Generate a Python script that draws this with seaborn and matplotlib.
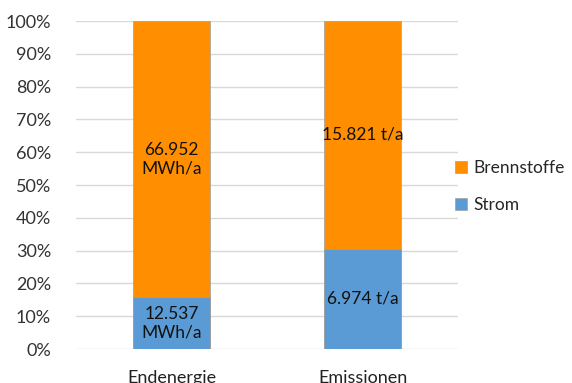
import matplotlib
matplotlib.use("Agg")
import matplotlib.pyplot as plt
import seaborn as sns
import pandas as pd
import numpy as np

categories = ["Endenergie", "Emissionen"]
strom = [12537, 6974]
brennstoffe = [66952, 15821]
strom_labels = ["12.537\nMWh/a", "6.974 t/a"]
brennstoffe_labels = ["66.952\nMWh/a", "15.821 t/a"]
yticks = [0, 10, 20, 30, 40, 50, 60, 70, 80, 90, 100]

c_orange = "#FF8F00"
c_blue = "#5B9BD5"

sns.set_theme(style="white")
plt.rcParams["font.family"] = ["Lato", "DejaVu Sans"]

total = np.array(strom) + np.array(brennstoffe)
df = pd.DataFrame({
    "cat": categories,
    "strom_pct": np.array(strom) / total * 100,
    "total_pct": total / total * 100,
})

fig = plt.figure(figsize=(5.72, 3.83), dpi=100)
ax = fig.add_axes([76 / 572, 1 - 349 / 383, 382 / 572, 328 / 383])

sns.barplot(data=df, x="cat", y="total_pct", color=c_orange, width=0.40,
            saturation=1, ax=ax, label="Brennstoffe", edgecolor="#A0A0A0", linewidth=0.5)
sns.barplot(data=df, x="cat", y="strom_pct", color=c_blue, width=0.40,
            saturation=1, ax=ax, label="Strom", edgecolor="#A0A0A0", linewidth=0.5)

ax.set_xlim(-0.5, 1.5)
ax.set_ylim(0, 100)
ax.set_yticks(yticks)
ax.set_yticklabels([f"{v}%" for v in yticks], fontsize=13, color="#333333")
ax.tick_params(axis="y", length=0, pad=18)
ax.tick_params(axis="x", length=0, pad=15, labelsize=13, labelcolor="#222222")
ax.set_xlabel("")
ax.set_ylabel("")
ax.yaxis.grid(True, color="#D9D9D9", linewidth=1)
ax.set_axisbelow(True)
for s in ax.spines.values():
    s.set_visible(False)

sp = df["strom_pct"].values
for i in range(len(categories)):
    ax.text(i, sp[i] / 2, strom_labels[i], ha="center", va="center",
            fontsize=12.5, color="#111111", linespacing=1.25)
    ax.text(i, sp[i] + (100 - sp[i]) / 2, brennstoffe_labels[i], ha="center",
            va="center", fontsize=12.5, color="#111111", linespacing=1.25)

handles, labels = ax.get_legend_handles_labels()
ax.legend(handles, labels, loc="center left", bbox_to_anchor=(0.95, 0.495),
          frameon=False, fontsize=12.5, handlelength=0.7, handleheight=0.7,
          handletextpad=0.4, labelspacing=1.2)

fig.savefig("out.png", dpi=100)
